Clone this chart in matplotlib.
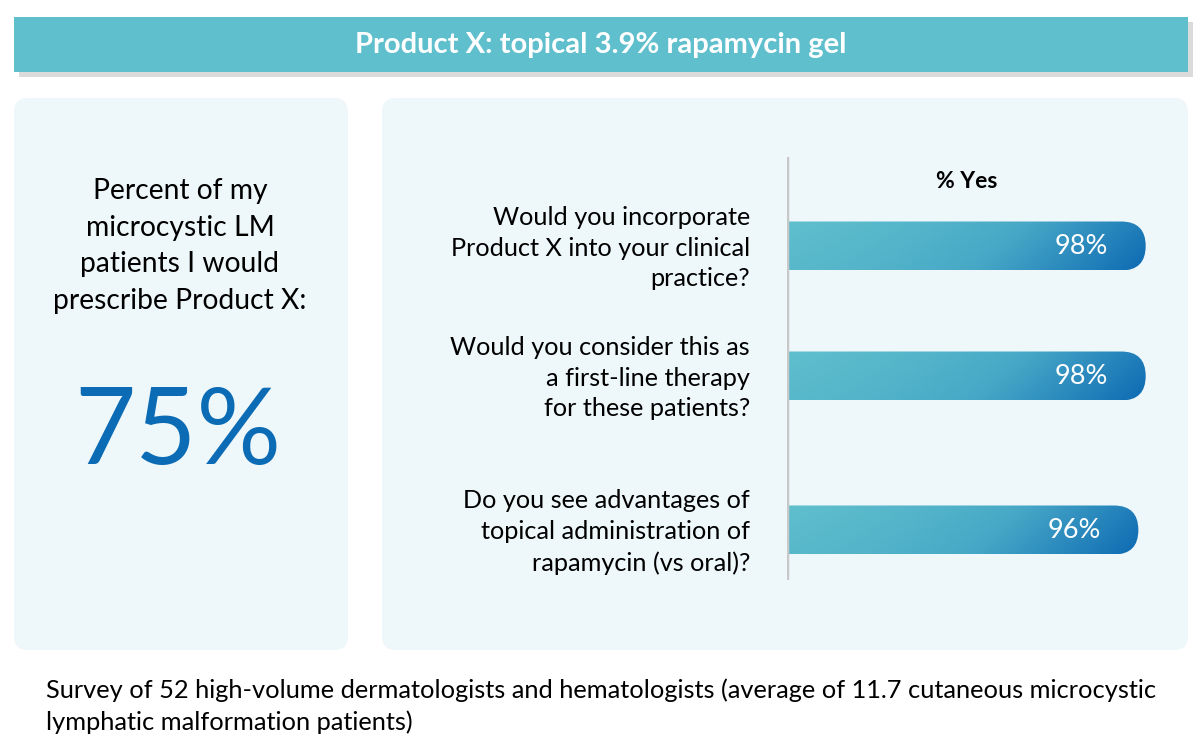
import matplotlib.pyplot as plt
import numpy as np
from matplotlib.patches import FancyBboxPatch, Rectangle
from matplotlib.colors import LinearSegmentedColormap

plt.rcParams['font.family'] = ['Lato', 'DejaVu Sans']

# data
title = "Product X: topical 3.9% rapamycin gel"
questions = [
    "Would you incorporate\nProduct X into your clinical\npractice?",
    "Would you consider this as\na first-line therapy\nfor these patients?",
    "Do you see advantages of\ntopical administration of\nrapamycin (vs oral)?",
]
yes_pct = [98, 98, 96]
big_label = "Percent of my\nmicrocystic LM\npatients I would\nprescribe Product X:"
big_value = "75%"
footnote = ("Survey of 52 high-volume dermatologists and hematologists (average of 11.7 cutaneous microcystic\n"
            "lymphatic malformation patients)")

# layout (pixel rows of bar centres)
bar_rows = [246, 376, 530]
bar_h = 49

teal = '#5FBFCD'
navy = '#0E6AB3'
panel = '#EEF7FA'

W, H = 1204, 742
fig = plt.figure(figsize=(W / 100, H / 100), dpi=100)
bg = fig.add_axes([0, 0, 1, 1])
bg.set_xlim(0, W)
bg.set_ylim(H, 0)
bg.axis('off')

# banner with shadow
bg.add_patch(Rectangle((19, 22), 1174, 55, color='#9a9a9a', alpha=0.35, lw=0))
bg.add_patch(Rectangle((14, 17), 1174, 55, color=teal, lw=0))
bg.text(601, 45, title, color='white', fontsize=21, fontweight='bold',
        ha='center', va='center')

# panels
for x0, x1 in [(14, 348), (382, 1188)]:
    bg.add_patch(FancyBboxPatch((x0, 98), x1 - x0, 552,
                                boxstyle='round,pad=0,rounding_size=14',
                                fc=panel, ec='none'))

bg.text(180, 246, big_label, ha='center', va='center', fontsize=20.3,
        linespacing=1.5, color='black')
bg.text(178, 434, big_value, ha='center', va='center', fontsize=76,
        color='#0B6BB4')

for q, r in zip(questions, bar_rows):
    bg.text(750, r + 2, q, ha='right', va='center', fontsize=18.2,
            linespacing=1.42, color='black')

bg.text(46, 706, footnote, ha='left', va='center', fontsize=18.3,
        linespacing=1.4, color='black')

# bar axes: x 0..100 maps 787..1153 px, y in pixels
x0px, x1px = 787, 1153
y0px, y1px = 157, 580
ax = fig.add_axes([x0px / W, 1 - y1px / H, (x1px - x0px) / W, (y1px - y0px) / H])
ax.set_xlim(0, 100)
ax.set_ylim(y1px, y0px)
ax.axis('off')
ax.patch.set_alpha(0)

px_per_unit = (x1px - x0px) / 100.0
r_units = (bar_h / 2) / px_per_unit
cmap = LinearSegmentedColormap.from_list('g', [teal, '#48A9C7', navy])

for val, r in zip(yes_pct, bar_rows):
    patch = FancyBboxPatch((-20, r - bar_h / 2), val + 20, bar_h,
                           boxstyle=f'round,pad=0,rounding_size={r_units}',
                           mutation_aspect=px_per_unit, fc='none', ec='none')
    ax.add_patch(patch)
    u = np.linspace(0, 1, 300)
    v = np.linspace(0, 1, 40)
    U, V = np.meshgrid(u, v)
    g = np.clip(U ** 1.3 * 0.85 + V * 0.15, 0, 1)
    im = ax.imshow(g, cmap=cmap, extent=(0, val, r + bar_h / 2, r - bar_h / 2),
                   aspect='auto', origin='upper', interpolation='bilinear', zorder=2)
    im.set_clip_path(patch)
    ax.text(val - 17.5, r + 1, f"{val}%", color='white', fontsize=19.5,
            ha='center', va='center', zorder=3)

ax.set_xlim(0, 100)
ax.set_ylim(y1px, y0px)
ax.axvline(0, color='#C8C8C8', lw=2.5, zorder=4)
ax.text(49, 181, "% Yes", ha='center', va='center', fontsize=16.5,
        fontweight='bold', color='black')

fig.savefig('out.png', dpi=100)
